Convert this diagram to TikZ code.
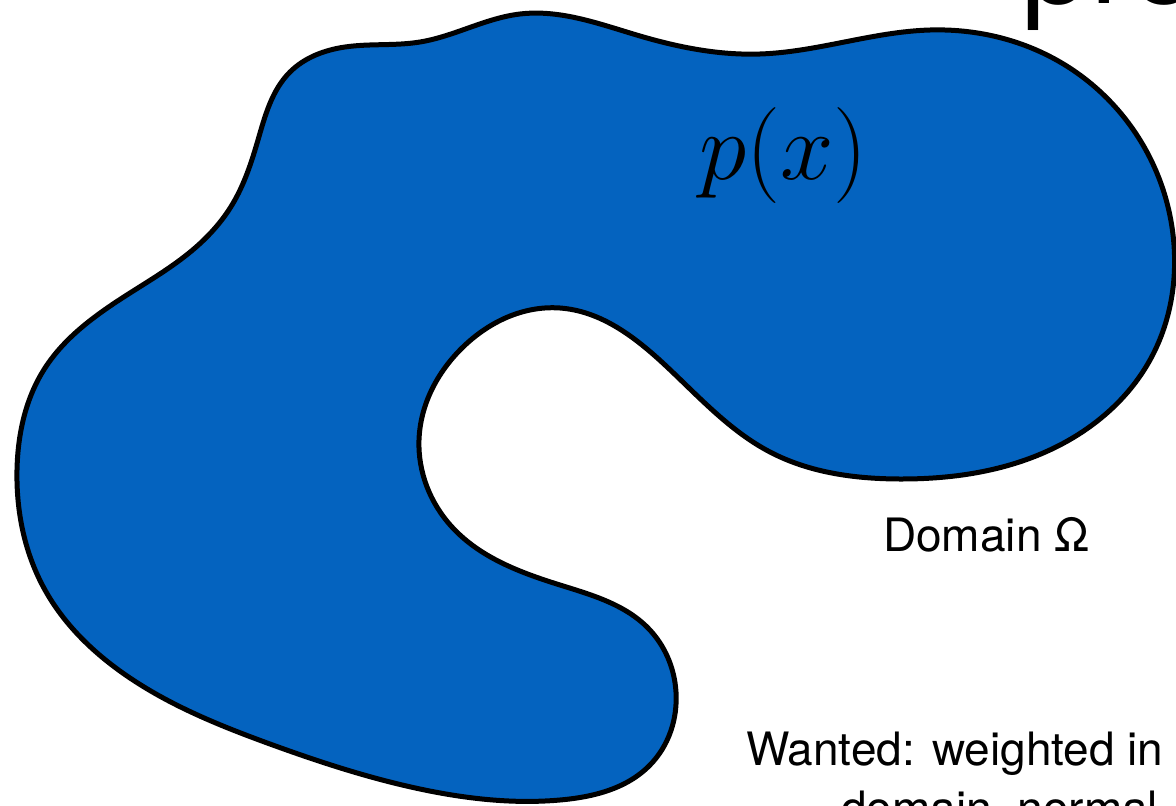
\documentclass[tikz,border=0pt]{standalone}
\usepackage{fix-cm}
\usepackage{fontspec}
\usetikzlibrary{hobby}
\setmainfont{TeX Gyre Heros}
\definecolor{blob}{RGB}{4,99,191}
\tikzset{
  domainfill/.style={draw=black, line width=5pt, fill=blob, line join=round},
  bigtext/.style={inner sep=0pt, text=black, font=\fontsize{46}{46}\selectfont},
}
\begin{document}
\begin{tikzpicture}[x=1pt,y=-1pt]
\useasboundingbox (0,0) rectangle (1176,806);
\clip (0,0) rectangle (1176,806);
\draw[domainfill] plot[closed hobby] coordinates {
(232,205) (258,140) (290,72) (345,47) (420,42) (520,14) (640,36)
(760,54) (930,30) (1060,62) (1140,140) (1174,245) (1150,360)
(1060,445) (900,479) (770,452) (665,365) (560,308) (462,348)
(419,440) (452,527) (560,585) (648,628) (676,692) (650,765)
(560,800) (420,789) (270,744) (130,678) (45,590) (17,470)
(45,368) (130,293) (195,248)};
\node[inner sep=0pt, anchor=base west] (px) at (699,179)
  {\fontsize{96}{96}\selectfont $p(x)$};
\node[bigtext, anchor=base west] (dom) at (883,551) {Domain Ω};
\node[bigtext, anchor=base west] (want1) at (746,765) {Wanted: weighted in};
\node[bigtext, anchor=base west] (want2) at (841,824) {domain, normal};
\node[inner sep=0pt, anchor=base west, font=\fontsize{124}{124}\selectfont] (title) at (1021,3) {pro};
\end{tikzpicture}
\end{document}
